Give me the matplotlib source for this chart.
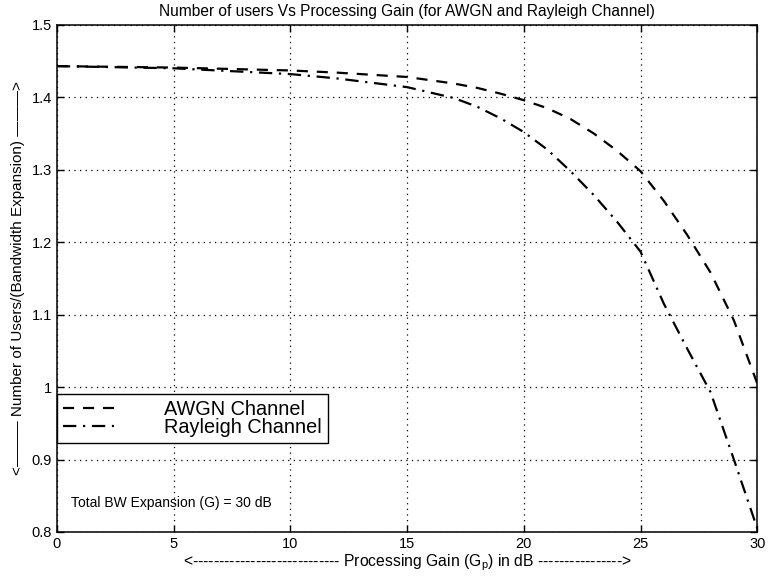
import numpy as np
import matplotlib
matplotlib.use("Agg")
import matplotlib.pyplot as plt

plt.rcParams['font.family'] = ['Liberation Sans', 'DejaVu Sans']

# processing gain in dB
gain_db = [0, 5, 10, 12, 15, 17, 18, 19, 20, 21, 22, 23, 24, 25, 26, 27, 28, 29, 30]
# users per bandwidth expansion
awgn = [1.443, 1.441, 1.437, 1.434, 1.428, 1.419, 1.413, 1.405, 1.396, 1.385,
        1.370, 1.350, 1.326, 1.298, 1.257, 1.210, 1.158, 1.092, 1.005]
rayleigh = [1.443, 1.440, 1.432, 1.426, 1.414, 1.399, 1.387, 1.371, 1.352, 1.328,
            1.298, 1.265, 1.228, 1.187, 1.115, 1.053, 0.993, 0.900, 0.805]

x_ticks = [0, 5, 10, 15, 20, 25, 30]
y_ticks = [0.8, 0.9, 1.0, 1.1, 1.2, 1.3, 1.4, 1.5]
y_tick_labels = ['0.8', '0.9', '1', '1.1', '1.2', '1.3', '1.4', '1.5']

fig = plt.figure(figsize=(7.68, 5.77), dpi=100)
ax = fig.add_axes([0.074, 0.078, 0.912, 0.879])

ax.plot(gain_db, awgn, color='black', lw=1.6, linestyle=(0, (5, 4)),
        label='AWGN Channel')
ax.plot(gain_db, rayleigh, color='black', lw=1.6, linestyle=(0, (6, 3, 1, 3)),
        label='Rayleigh Channel')

ax.set_xlim(0, 30)
ax.set_ylim(0.8, 1.5)
ax.set_xticks(x_ticks)
ax.set_yticks(y_ticks)
ax.set_yticklabels(y_tick_labels)
ax.tick_params(direction='in', length=5, top=True, right=True, labelsize=10.5,
               colors='black', width=1)
ax.grid(True, color='black', linestyle=(0, (1, 3.5)), linewidth=0.9)
for s in ax.spines.values():
    s.set_linewidth(1.1)

ax.set_title('Number of users Vs Processing Gain (for AWGN and Rayleigh Channel)',
             fontsize=11.2, pad=6)
ax.set_xlabel('<' + '-' * 28 + ' Processing Gain (G$_\\mathregular{p}$) in dB '
              + '-' * 16 + '>', fontsize=11.3, labelpad=1)
ax.set_ylabel('<\u2014\u2014\u2014 Number of Users/(Bandwidth Expansion) \u2014\u2014\u2014>',
              fontsize=11, labelpad=5)

leg = ax.legend(loc='lower left', bbox_to_anchor=(0.0, 0.175), fontsize=14.3,
                frameon=True, fancybox=False, edgecolor='black', framealpha=1,
                handlelength=2.6, handletextpad=2.5, borderpad=0.3,
                labelspacing=-0.05, borderaxespad=0)
leg.get_frame().set_linewidth(1.0)

ax.text(0.6, 0.835, 'Total BW Expansion (G) = 30 dB', fontsize=10)

fig.savefig('out.png', dpi=100)
